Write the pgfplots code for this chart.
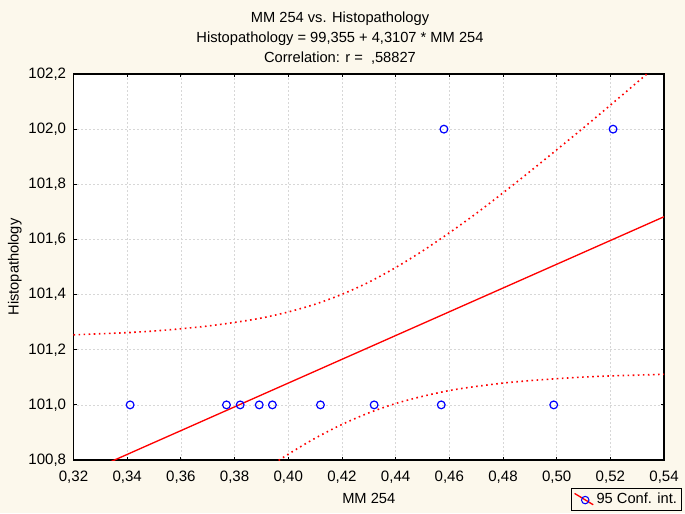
\documentclass[border=0pt]{standalone}
\usepackage{pgfplots}
\pgfplotsset{compat=1.18}
\usepackage{fontspec}
\setmainfont{Liberation Sans}
\definecolor{bgc}{RGB}{252,248,236}
\definecolor{gridc}{RGB}{215,215,215}

\begin{document}
\begin{tikzpicture}
\fill[bgc] (-55.1pt,-39.75pt) rectangle (458.6pt,345pt);
\begin{axis}[
    at={(0,0)}, anchor=south west,
    scale only axis,
    width=442.9pt, height=289.5pt,
    xmin=0.32, xmax=0.54, ymin=100.8, ymax=102.2,
    xtick={0.32,0.34,0.36,0.38,0.40,0.42,0.44,0.46,0.48,0.50,0.52,0.54},
    ytick={100.8,101.0,101.2,101.4,101.6,101.8,102.0,102.2},
    xticklabel style={/pgf/number format/.cd, use comma, fixed, fixed zerofill, precision=2, /tikz/.cd, yshift=-4.5pt},
    yticklabel style={/pgf/number format/.cd, use comma, fixed, fixed zerofill, precision=1, /tikz/.cd, xshift=-2pt},
    /pgf/number format/assume math mode=true,
    tick label style={font=\fontsize{11.3}{13}\selectfont},
    label style={font=\fontsize{11}{13}\selectfont},
    tick align=inside,
    major tick length=2.5pt,
    tick style={black, line width=0.6pt},
    axis line style={black, line width=0.9pt},
    axis background/.style={fill=white},
    grid=major,
    grid style={gridc, dash pattern=on 1.5pt off 1.5pt, line width=0.5pt},
    title={MM 254 vs. Histopathology\\Histopathology = 99,355 + 4,3107 * MM 254\\Correlation: r = \ ,58827},
    title style={at={(axis description cs:0.4513,1)}, anchor=south, align=center,
        font=\fontsize{11}{15}\selectfont, inner sep=0pt, yshift=1pt},
    xlabel={MM 254},
    xlabel style={at={(axis description cs:0.5,0)}, anchor=center, yshift=-28.5pt},
    ylabel={Histopathology},
    ylabel style={at={(axis description cs:-0.0991,0.5)}, anchor=center},
    legend style={at={(axis description cs:1.0305,-0.0725)}, anchor=north east,
        draw=black, fill=bgc, font=\fontsize{11}{13}\selectfont,
        inner sep=1.5pt, line width=0.6pt},
    legend cell align=left,
]
\addplot[red, line width=1pt,
    legend image code/.code={
        \draw[red, line width=1pt] (0pt,4.5pt) -- (14pt,-4pt);
        \draw[blue, line width=0.8pt] (8pt,-0.5pt) circle (2.8pt);
    }] coordinates {(0.32,100.7342) (0.54,101.6824)};
\addlegendentry{95 Conf. int.}
\addplot[red, dash pattern=on 1.2pt off 2.6pt, line width=1.2pt, smooth, forget plot] coordinates {
(0.32,101.254) (0.33,101.258) (0.34,101.262) (0.35,101.268) (0.36,101.276)
(0.37,101.286) (0.38,101.299) (0.39,101.315) (0.40,101.337) (0.41,101.365)
(0.42,101.401) (0.43,101.445) (0.44,101.498) (0.45,101.558) (0.46,101.624)
(0.47,101.694) (0.48,101.769) (0.49,101.846) (0.50,101.925) (0.51,102.005)
(0.52,102.087) (0.53,102.170) (0.54,102.254)};
\addplot[red, dash pattern=on 1.2pt off 2.6pt, line width=1.2pt, smooth, forget plot] coordinates {
(0.36,100.537) (0.37,100.614) (0.38,100.687) (0.39,100.757) (0.40,100.821)
(0.41,100.879) (0.42,100.929) (0.43,100.971) (0.44,101.005) (0.45,101.031)
(0.46,101.052) (0.47,101.067) (0.48,101.079) (0.49,101.088) (0.50,101.095)
(0.51,101.101) (0.52,101.105) (0.53,101.108) (0.54,101.111)};
\addplot[only marks, mark=o, mark size=2.9pt, blue, mark options={line width=0.9pt}, forget plot] coordinates {
(0.3411,101) (0.3770,101) (0.3821,101) (0.3892,101) (0.3941,101)
(0.4120,101) (0.4320,101) (0.4570,101) (0.4989,101) (0.4580,102) (0.5210,102)};
\end{axis}
\end{tikzpicture}
\end{document}
